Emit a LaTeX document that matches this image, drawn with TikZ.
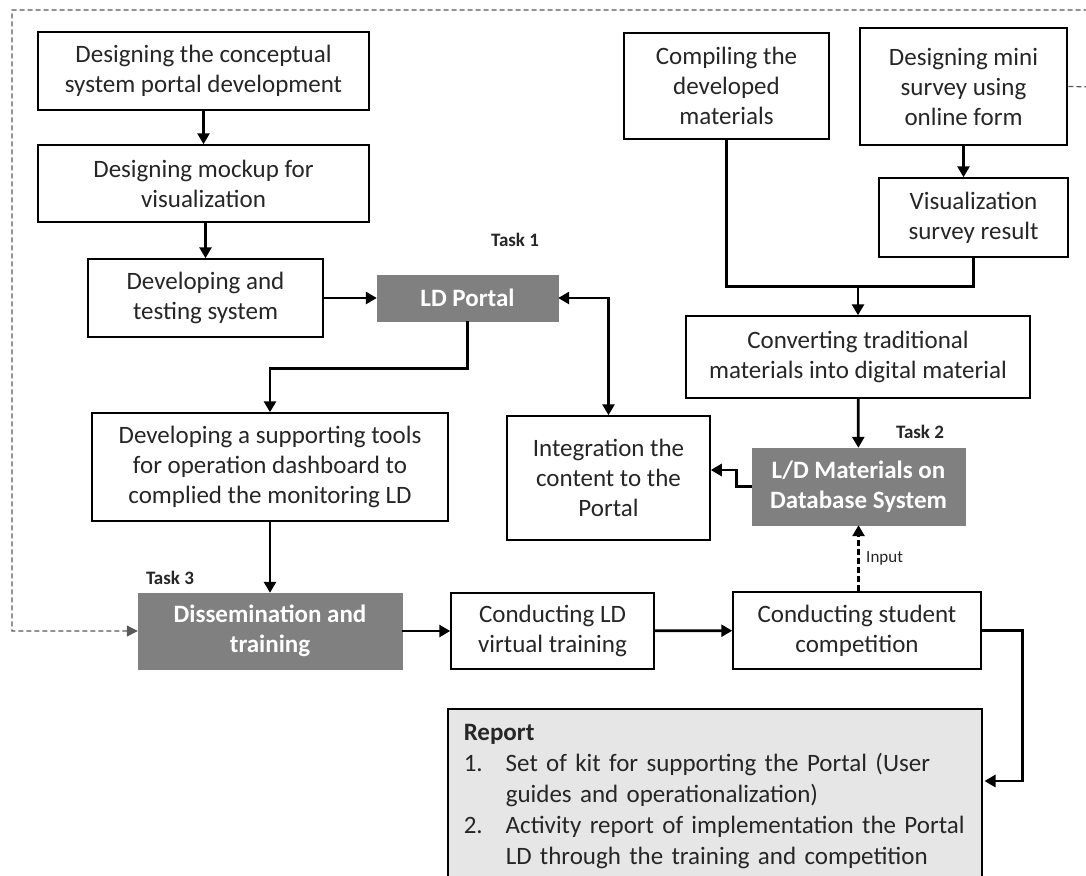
\documentclass[tikz,border=0pt]{standalone}
\usepackage{fontspec}
\setmainfont{Carlito}
\usetikzlibrary{arrows.meta,calc,positioning}
\tikzset{
	box/.style={draw,line width=1.5pt,fill=white,align=center,inner sep=0pt,text=black!85},
	taskbox/.style={draw=black!50,fill=black!50,align=center,inner sep=0pt,text=white,font=\fontsize{25}{30}\selectfont\bfseries},
	reportbox/.style={draw,line width=1.5pt,fill=reportgray,align=left,inner xsep=16pt,inner ysep=16pt,text=black!85,font=\fontsize{25}{31}\selectfont},
	tasklbl/.style={font=\fontsize{19}{22}\selectfont\bfseries,text=black!85},
	flow/.style={line width=2.8pt,-{Triangle[length=11pt,width=12pt]}},
	twoway/.style={line width=2.8pt,{Triangle[length=11pt,width=12pt]}-{Triangle[length=11pt,width=12pt]}},
	plain/.style={line width=2.8pt},
	feedback/.style={draw=black!65,line width=1.2pt,dash pattern=on 5pt off 3pt,-{Triangle[length=11pt,width=11pt]}},
	inputline/.style={line width=2.8pt,dash pattern=on 6pt off 3pt,-{Triangle[length=11pt,width=12pt]}},
}
\definecolor{reportgray}{HTML}{E7E6E6}
\begin{document}
\begin{tikzpicture}[x=1pt,y=-1pt,font=\fontsize{25}{30}\selectfont]
	\fill[white] (0,0) rectangle (1086,875);
	\useasboundingbox (0,0) rectangle (1086,875);

	% Task 1
	\node (design) at (203.5,71) [box,minimum width=331,minimum height=78] {Designing the conceptual\\system portal development};
	\node (mockup) at (203.5,183.5) [box,minimum width=331,minimum height=77] {Designing mockup for\\visualization};
	\node (devtest) at (205.5,298) [box,minimum width=235,minimum height=78] {Developing and\\testing system};
	\node (portal) at (467.5,298) [taskbox,minimum width=181,minimum height=46] {LD Portal};
	\node[tasklbl] (lblTask1) at (515,240) {Task 1};
	\node (tools) at (270,467) [box,minimum width=356,minimum height=108] {Developing a supporting tools\\for operation dashboard to\\complied the monitoring LD};

	% Task 2
	\node (compile) at (726.5,86) [box,minimum width=205,minimum height=106] {Compiling the\\developed\\materials};
	\node (survey) at (963.5,86.5) [box,line width=2.6pt,minimum width=207,minimum height=117] {Designing mini\\survey using\\online form};
	\node (visres) at (973.5,217.5) [box,minimum width=189,minimum height=79] {Visualization\\survey result};
	\node (convert) at (858,357) [box,minimum width=344,minimum height=82] {Converting traditional\\materials into digital material};
	\node (materials) at (858.5,486.5) [taskbox,minimum width=213,minimum height=77] {L/D Materials on\\Database System};
	\node[tasklbl] (lblTask2) at (920,432) {Task 2};
	\node (integ) at (608.5,478) [box,minimum width=203,minimum height=124] {Integration the\\content to the\\Portal};

	% Task 3
	\node (dissem) at (270,631) [taskbox,minimum width=264,minimum height=76] {Dissemination and\\training};
	\node[tasklbl] (lblTask3) at (170,578) {Task 3};
	\node (virtual) at (552.5,631) [box,minimum width=203,minimum height=76] {Conducting LD\\virtual training};
	\node (compet) at (857,630.5) [box,minimum width=248,minimum height=77] {Conducting student\\competition};

	\node (report) at (447,708) [reportbox,anchor=north west,text width=502] {\textbf{Report}\\
		\makebox[42pt][l]{1.}Set of kit for supporting the Portal (User\\
		\hspace*{42pt}guides and operationalization)\\
		\makebox[42pt][l]{2.}Activity report of implementation the Portal\\
		\hspace*{42pt}LD through the training and competition\\
		\strut};

	\coordinate (joint) at ($(convert.north)+(0,-29)$);
	\coordinate (repin) at ($(report.north east)+(2,73)$);

	% connectors
	\draw[flow] (design) -- (mockup);
	\draw[flow] (mockup.south -| devtest.north) -- (devtest.north);
	\draw[flow] (devtest) -- (portal);
	\draw[flow] (portal.south) -- ++(0,47) -| (tools.north);
	\draw[flow] (tools) -- (dissem);
	\draw[twoway] (portal.east) -| (integ.north);
	\draw[flow] (compile.south) |- (joint) -- (convert.north);
	\draw[plain] (visres.south) |- (joint);
	\draw[flow] (survey) -- (visres.north -| survey.south);
	\draw[flow] (convert) -- (materials);
	\draw[flow] (materials.west) -- ++(-15,0) |- ($(integ.east)+(0,-8)$);
	\draw[flow] (dissem) -- (virtual);
	\draw[flow] (virtual) -- (compet);
	\draw[inputline] (compet.north -| materials.south) -- (materials.south) node[pos=0.5,right=3pt,font=\fontsize{17}{20}\selectfont,text=black!85] {Input};
	\draw[flow] (compet.east) -- ++(41,0) |- (repin);
	\draw[feedback] (survey.east) -- (1100,87) -- (1100,10) -- (12,10) -- (12,631) -- (dissem.west);
\end{tikzpicture}
\end{document}
